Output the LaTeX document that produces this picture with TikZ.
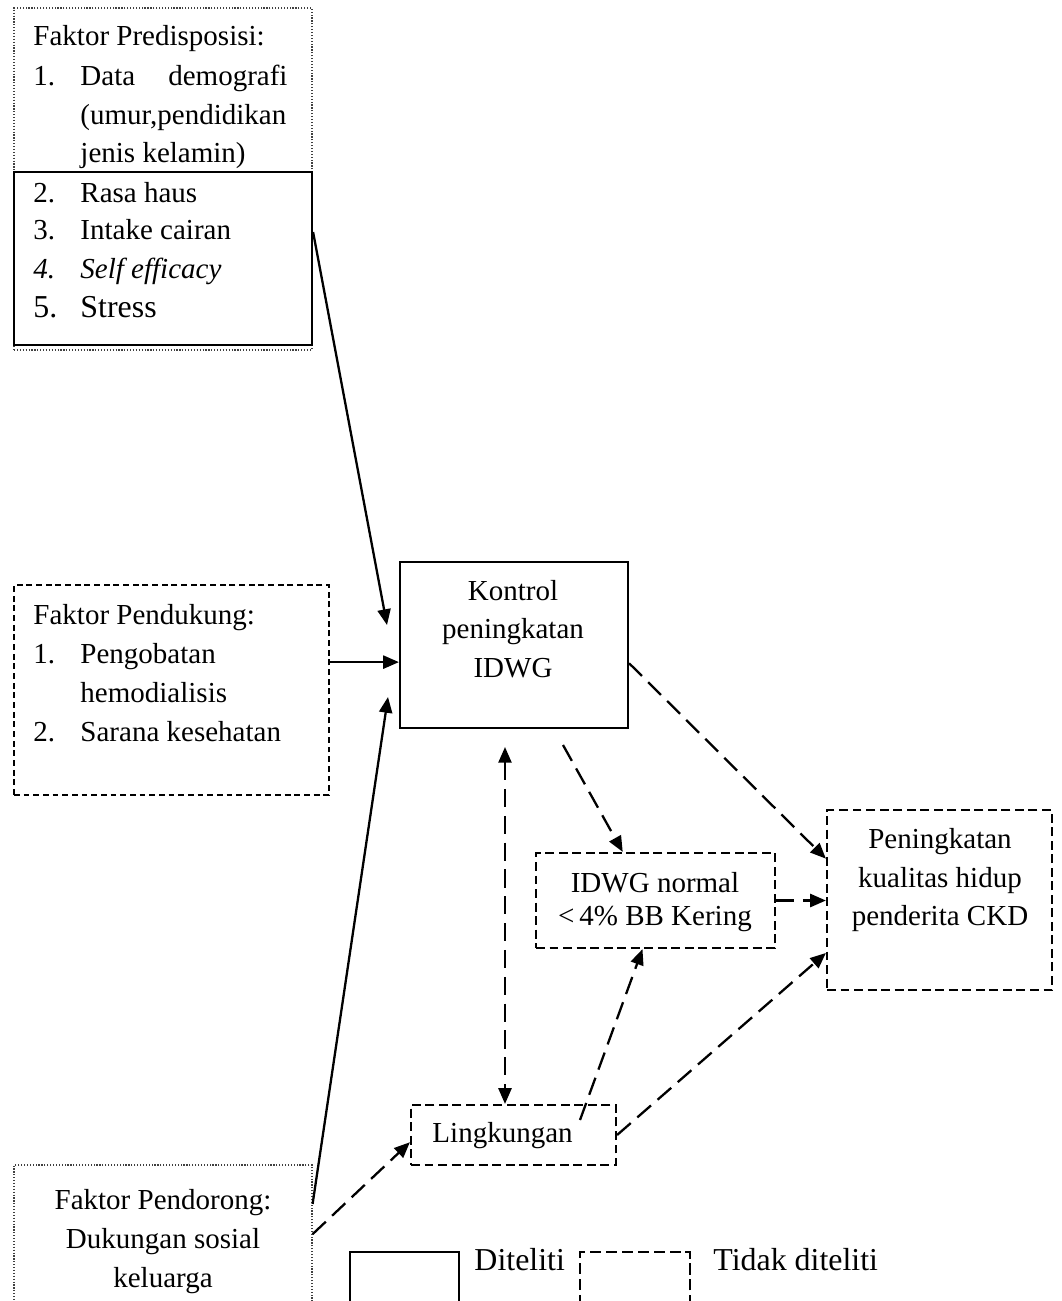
\documentclass[tikz,border=0pt]{standalone}
\usepackage{fontspec}
\setmainfont{Liberation Serif}
\usetikzlibrary{arrows.meta,fit,calc}

\begin{document}
\begin{tikzpicture}[x=0.01454cm,y=-0.01454cm,
  >={Triangle[length=6.5pt,width=5.4pt]},
  txt/.style={inner sep=0pt,font=\fontsize{12}{16}\selectfont},
  big/.style={inner sep=0pt,font=\fontsize{13.2}{16}\selectfont},
  solidbox/.style={draw,line width=0.9pt,inner sep=0pt},
  dashbox/.style={draw,line width=0.9pt,dash pattern=on 3.7pt off 1.9pt,inner sep=0pt},
  thinbox/.style={draw,line width=0.55pt,dash pattern=on 2.4pt off 1.6pt,inner sep=0pt},
  dotbox/.style={draw,black!75,line width=0.5pt,dash pattern=on 0.5pt off 0.7pt,inner sep=0pt},
  link/.style={->,line width=0.95pt},
  dlink/.style={->,line width=0.95pt,dash pattern=on 7.5pt off 3.6pt}]
\clip (0,0) rectangle (1062,1301);

% boxes
\node[dotbox,fit={(14,8) (312,350)}] (predisp) {};
\node[solidbox,fit={(14,172) (312,345)}] (predispB) {};
\node[thinbox,fit={(14,585) (329,795)}] (pend) {};
\node[dotbox,fit={(14,1165) (312,1340)}] (dorong) {};
\node[solidbox,fit={(400,562) (628,728)}] (kon) {};
\node[dashbox,fit={(536,853) (775,948)}] (idwg) {};
\node[dashbox,fit={(827,810) (1052,990)}] (pen) {};
\node[dashbox,fit={(411,1105) (616,1165)}] (ling) {};

% predisposing factors
\node[txt,anchor=base west] (pr0) at (33,45) {Faktor Predisposisi:};
\node[txt,anchor=base west] (pr1n) at (33,85) {1.}; \node[txt,anchor=base west] (pr1a) at (80,85) {Data}; \node[txt,anchor=base east] (pr1b) at (288,85) {demografi};
\node[txt,anchor=base west] (pr1c) at (80,124) {(umur,pendidikan};
\node[txt,anchor=base west] (pr1d) at (80,162) {jenis kelamin)};
\node[txt,anchor=base west] (pr2n) at (33,202) {2.}; \node[txt,anchor=base west] (pr2) at (80,202) {Rasa haus};
\node[txt,anchor=base west] (pr3n) at (33,239) {3.}; \node[txt,anchor=base west] (pr3) at (80,239) {Intake cairan};
\node[txt,anchor=base west] (pr4n) at (33,278) {\itshape 4.}; \node[txt,anchor=base west] (pr4) at (80,278) {\itshape Self efficacy};
\node[big,anchor=base west] (pr5n) at (33,317) {5.}; \node[big,anchor=base west] (pr5) at (80,317) {Stress};

% enabling factors
\node[txt,anchor=base west] (pd0) at (33,624) {Faktor Pendukung:};
\node[txt,anchor=base west] (pd1n) at (33,663) {1.}; \node[txt,anchor=base west] (pd1) at (80,663) {Pengobatan};
\node[txt,anchor=base west] (pd1b) at (80,702) {hemodialisis};
\node[txt,anchor=base west] (pd2n) at (33,741) {2.}; \node[txt,anchor=base west] (pd2) at (80,741) {Sarana kesehatan};

% reinforcing factors
\node[txt,anchor=base] (dr0) at (163,1209) {Faktor Pendorong:};
\node[txt,anchor=base] (dr1) at (163,1248) {Dukungan sosial};
\node[txt,anchor=base] (dr2) at (163,1287) {keluarga};

% middle and right
\node[txt,anchor=base] (kon1) at (513,600) {Kontrol};
\node[txt,anchor=base] (kon2) at (513,638) {peningkatan};
\node[txt,anchor=base] (kon3) at (513,677) {IDWG};
\node[txt,anchor=base] (id1) at (655,892) {IDWG normal};
\node[txt,anchor=base] (id2) at (655,925) {<\,4\%~BB Kering};
\node[txt,anchor=base] (pen1) at (940,848) {Peningkatan};
\node[txt,anchor=base] (pen2) at (940,887) {kualitas hidup};
\node[txt,anchor=base] (pen3) at (940,925) {penderita CKD};
\node[txt,anchor=base west] (ling1) at (432,1142) {Lingkungan};

% legend
\node[solidbox,fit={(350,1252) (459,1340)}] (keyA) {};
\node[big,anchor=base west] (keyAt) at (474,1270) {Diteliti};
\node[dashbox,dash pattern=on 4.6pt off 2pt,fit={(580,1252) (690,1340)}] (keyB) {};
\node[big,anchor=base west] (keyBt) at (713,1270) {Tidak diteliti};

% arrows
\coordinate (k1) at (387,625);
\coordinate (k3) at (388,697);
\coordinate (konB) at (563,745);
\coordinate (konC) at (505,747);
\coordinate (lingA) at (580,1120);
\draw[link] (predispB.10) -- (k1);
\draw[link] (pend.10) -- (pend.10 -| kon.west);
\draw[link] (dorong.18) -- (k3);
\draw[dlink] (dorong.7) -- (ling.184);
\draw[dlink] (kon.-9) -- (pen.160);
\draw[dlink] (konB) -- (idwg.124);
\draw[dlink,<->] (konC) -- (konC |- ling.north);
\draw[dlink] (idwg.east) -- (idwg.east -| pen.west);
\draw[dlink] (lingA) -- (idwg.-105);
\draw[dlink] (ling.east) -- (pen.205);
\end{tikzpicture}
\end{document}
